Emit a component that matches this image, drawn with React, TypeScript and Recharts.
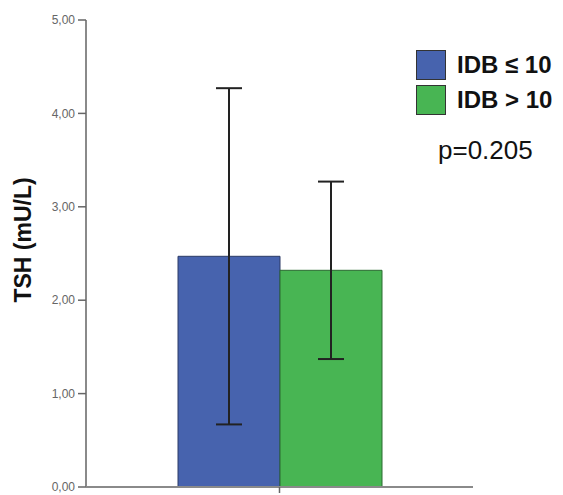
import React from 'react';
import { BarChart, Bar, XAxis, YAxis, ErrorBar } from 'recharts';

const categories = ['TSH'];
const groupLow = [2.47];
const groupHigh = [2.32];
const errLow = [1.8];
const errHigh = [0.95];
const yTicks = [0, 1, 2, 3, 4, 5];
const legendLabels = ['IDB ≤ 10', 'IDB > 10'];
const pValue = 'p=0.205';

const BLUE = '#4763ae';
const GREEN = '#48b553';
const FONT = '"Liberation Sans", Arial, sans-serif';

const data = categories.map((name, i) => ({
    name,
    low: groupLow[i],
    high: groupHigh[i],
    lowErr: errLow[i],
    highErr: errHigh[i],
}));

// legend drawn as an overlay so it doesn't eat plot space
const LegendBox = () => (
    <div style={{ position: 'absolute', left: 416, top: 50, fontFamily: FONT, color: '#111' }}>
        {legendLabels.map((lab, i) => (
            <div key={lab} style={{ display: 'flex', alignItems: 'center', height: 30, marginBottom: 5 }}>
                <span
                    style={{
                        width: 28,
                        height: 28,
                        background: i === 0 ? BLUE : GREEN,
                        border: '1px solid #333',
                        marginRight: 11,
                    }}
                />
                <span style={{ fontWeight: 'bold', fontSize: 24, lineHeight: '30px' }}>{lab}</span>
            </div>
        ))}
        <div style={{ fontSize: 26, lineHeight: '30px', marginTop: 20, marginLeft: 22 }}>{pValue}</div>
    </div>
);

const YLabel = () => (
    <text
        x={23}
        y={240}
        transform="rotate(-90 23 240)"
        textAnchor="middle"
        dominantBaseline="central"
        fontSize={23}
        fontWeight="bold"
        fill="#111"
        fontFamily={FONT}
    >
        TSH (mU/L)
    </text>
);

export default function App() {
    return (
        <div style={{ position: 'absolute', left: 0, top: 0, width: 563, height: 495, background: '#fff' }}>
            <BarChart
                width={563}
                height={495}
                data={data}
                margin={{ top: 20, right: 90, bottom: 0, left: 0 }}
                barGap={0}
                barSize={102}
            >
                <XAxis
                    dataKey="name"
                    height={8}
                    tickSize={6}
                    tickFormatter={() => ''}
                    axisLine={{ stroke: '#8a8a8a', strokeWidth: 2 }}
                    tickLine={{ stroke: '#666', strokeWidth: 1.5 }}
                />
                <YAxis
                    width={86}
                    domain={[0, 5]}
                    ticks={yTicks}
                    tickSize={8}
                    tickMargin={3}
                    tickFormatter={(v: number) => v.toFixed(2).replace('.', ',')}
                    tick={{ fontSize: 12, fill: '#666', fontFamily: FONT }}
                    axisLine={{ stroke: '#8a8a8a', strokeWidth: 2 }}
                    tickLine={{ stroke: '#666', strokeWidth: 1.5 }}
                    label={{ content: () => <YLabel /> }}
                />
                <Bar dataKey="low" fill={BLUE} stroke="#2c3b66" strokeWidth={1} isAnimationActive={false}>
                    <ErrorBar dataKey="lowErr" width={13} stroke="#222" strokeWidth={2} direction="y" />
                </Bar>
                <Bar dataKey="high" fill={GREEN} stroke="#2b6a31" strokeWidth={1} isAnimationActive={false}>
                    <ErrorBar dataKey="highErr" width={13} stroke="#222" strokeWidth={2} direction="y" />
                </Bar>
            </BarChart>
            <LegendBox />
        </div>
    );
}
